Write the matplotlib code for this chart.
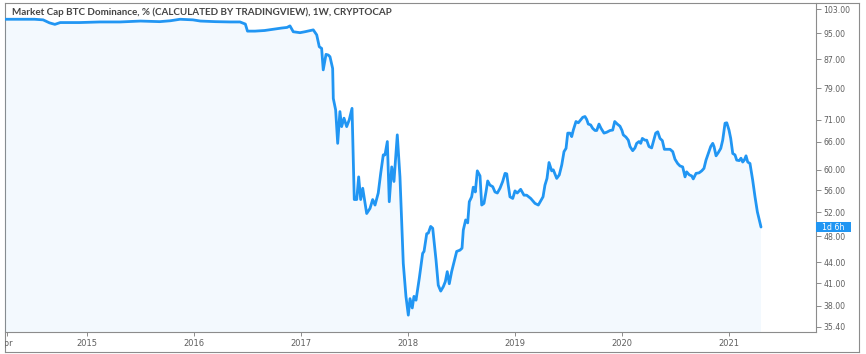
import matplotlib
matplotlib.use("Agg")
import numpy as np
import matplotlib.pyplot as plt
from matplotlib.ticker import FixedLocator, FixedFormatter, NullLocator
from matplotlib.patches import Rectangle
from matplotlib.transforms import blended_transform_factory

# ---------------- data ----------------
years = [
    2014.23, 2014.37, 2014.51, 2014.59, 2014.65, 2014.70, 2014.75, 2014.93,
    2015.12, 2015.31, 2015.50, 2015.68, 2015.78, 2015.87, 2015.99, 2016.06,
    2016.20, 2016.34, 2016.43, 2016.48, 2016.50, 2016.57, 2016.66, 2016.76,
    2016.82, 2016.87,
    2016.897, 2016.928, 2016.991, 2017.037, 2017.115, 2017.147, 2017.171, 2017.193,
    2017.208, 2017.234, 2017.255, 2017.271, 2017.296, 2017.302, 2017.324, 2017.343,
    2017.364, 2017.380, 2017.402, 2017.427, 2017.451, 2017.477, 2017.498, 2017.521,
    2017.539, 2017.558, 2017.577, 2017.614, 2017.645, 2017.670, 2017.692, 2017.722,
    2017.745, 2017.769, 2017.785, 2017.807, 2017.825, 2017.848, 2017.869, 2017.900,
    2017.925, 2017.956, 2017.981, 2018.003, 2018.019, 2018.040, 2018.056, 2018.075,
    2018.106, 2018.137, 2018.150, 2018.175, 2018.190, 2018.212, 2018.231, 2018.262,
    2018.283, 2018.306, 2018.330, 2018.349, 2018.367, 2018.386, 2018.408, 2018.430,
    2018.455, 2018.486, 2018.505, 2018.517, 2018.539, 2018.558, 2018.573, 2018.595,
    2018.610, 2018.629, 2018.648, 2018.673, 2018.689, 2018.710, 2018.729, 2018.745,
    2018.766, 2018.792, 2018.813, 2018.835, 2018.860, 2018.885, 2018.907, 2018.923,
    2018.937, 2018.953, 2018.979, 2019.000, 2019.021, 2019.053, 2019.084, 2019.109,
    2019.147, 2019.187, 2019.218, 2019.262, 2019.280, 2019.299, 2019.318, 2019.343,
    2019.358, 2019.390, 2019.414, 2019.437, 2019.458, 2019.477, 2019.493, 2019.514,
    2019.530, 2019.545, 2019.570, 2019.592, 2019.614, 2019.633, 2019.654, 2019.670,
    2019.685, 2019.707, 2019.726, 2019.748, 2019.764, 2019.785, 2019.804, 2019.832,
    2019.857, 2019.888, 2019.913, 2019.932, 2019.956, 2019.981, 2020.000, 2020.012,
    2020.037, 2020.059, 2020.075, 2020.100, 2020.121, 2020.137, 2020.159, 2020.175,
    2020.190, 2020.215, 2020.231, 2020.252, 2020.277, 2020.293, 2020.315, 2020.334,
    2020.355, 2020.377, 2020.396, 2020.418, 2020.449, 2020.474, 2020.495, 2020.520,
    2020.542, 2020.567, 2020.589, 2020.604, 2020.629, 2020.651, 2020.666, 2020.692,
    2020.720, 2020.745, 2020.766, 2020.785, 2020.807, 2020.829, 2020.848, 2020.860,
    2020.879, 2020.900, 2020.923, 2020.941, 2020.963, 2020.979, 2021.000, 2021.016,
    2021.035, 2021.056, 2021.072, 2021.096, 2021.112, 2021.128, 2021.143, 2021.159,
    2021.175, 2021.196, 2021.221, 2021.243, 2021.265, 2021.299,
]
dominance = [
    99.6, 99.6, 99.6, 99.4, 98.4, 97.9, 98.5, 98.5,
    98.7, 98.7, 99.0, 98.8, 99.1, 99.6, 99.4, 99.0,
    98.8, 98.7, 98.7, 98.0, 95.7, 95.7, 95.9, 96.4,
    96.7, 96.9,
    97.4, 95.5, 95.2, 95.5, 96.1, 94.5, 90.8, 90.3,
    84.0, 88.5, 88.3, 87.8, 84.4, 76.3, 73.4, 65.6,
    73.0, 69.4, 71.4, 69.4, 71.0, 73.8, 54.3, 54.3,
    58.6, 54.3, 56.4, 51.8, 52.7, 54.3, 53.3, 55.5,
    59.3, 63.1, 63.1, 66.0, 53.9, 60.6, 57.7, 67.5,
    58.6, 43.8, 39.2, 36.8, 38.9, 37.7, 39.2, 38.7,
    41.7, 45.3, 45.6, 48.4, 48.5, 49.6, 49.3, 44.3,
    40.7, 39.9, 40.5, 41.2, 42.6, 40.9, 42.6, 44.0,
    45.6, 45.8, 46.1, 49.0, 50.7, 50.2, 53.9, 54.8,
    56.6, 55.7, 59.8, 58.8, 53.3, 53.6, 55.7, 57.8,
    57.0, 56.7, 55.7, 55.5, 56.4, 57.7, 59.3, 59.2,
    57.0, 54.8, 54.5, 55.9, 55.5, 56.2, 55.1, 55.1,
    54.5, 53.6, 53.3, 54.8, 57.0, 58.3, 61.5, 59.8,
    60.0, 58.3, 59.0, 61.0, 63.8, 64.5, 67.9, 67.9,
    67.1, 68.6, 70.6, 70.3, 71.0, 71.6, 71.8, 71.1,
    70.0, 69.8, 69.0, 68.5, 68.5, 70.0, 69.0, 67.9,
    68.1, 68.5, 68.6, 70.6, 70.0, 69.5, 68.5, 67.5,
    67.0, 66.3, 64.9, 64.0, 64.6, 65.6, 66.0, 65.6,
    66.7, 66.3, 66.3, 64.9, 64.6, 66.0, 67.9, 68.2,
    66.7, 66.2, 64.3, 64.3, 64.3, 63.8, 62.2, 61.3,
    60.8, 60.6, 58.6, 59.6, 59.0, 58.8, 58.2, 59.3,
    59.4, 59.8, 60.3, 62.0, 63.4, 64.9, 65.6, 64.9,
    62.9, 63.6, 64.5, 66.3, 70.2, 70.3, 68.6, 66.7,
    63.4, 63.1, 62.0, 61.9, 62.4, 61.6, 62.0, 62.9,
    61.6, 61.3, 58.0, 54.8, 52.1, 49.5,
]

y_ticks = [35.4, 38, 41, 44, 48, 52, 56, 60, 66, 71, 79, 87, 95, 103]
y_tick_labels = ["35.40", "38.00", "41.00", "44.00", "48.00", "52.00", "56.00",
                 "60.00", "66.00", "71.00", "79.00", "87.00", "95.00", "103.00"]
x_ticks = [2014.25, 2015, 2016, 2017, 2018, 2019, 2020, 2021]
x_tick_labels = ["Apr", "2015", "2016", "2017", "2018", "2019", "2020", "2021"]
title = "Market Cap BTC Dominance, % (CALCULATED BY TRADINGVIEW), 1W, CRYPTOCAP"
countdown = "1d 6h"

# ---------------- styling ----------------
LINE = "#2196F3"
FRAME = "#8c8c8c"
TXT = "#5f5f5f"

W, H = 866, 354
fig = plt.figure(figsize=(W / 100, H / 100), dpi=100)
fig.patch.set_facecolor("white")


def rect(l, t, r, b):
    return [l / W, 1 - b / H, (r - l) / W, (b - t) / H]


# outer frame
bg = fig.add_axes(rect(5, 3, 859, 352))
bg.set_xticks([])
bg.set_yticks([])
for s in bg.spines.values():
    s.set_color(FRAME)
    s.set_linewidth(0.8)
bg.patch.set_facecolor("white")

ax = fig.add_axes(rect(5, 3, 816, 332))
ax.patch.set_alpha(0)
ax.set_yscale("log")
ax.fill_between(years, dominance, 1, color=LINE, alpha=0.05, lw=0)
ax.plot(years, dominance, color=LINE, lw=2.0, solid_joinstyle="round",
        solid_capstyle="round")
ax.set_xlim(2014.234, 2021.813)
ax.set_ylim(34.77, 105.2)

ax.yaxis.set_major_locator(FixedLocator(y_ticks))
ax.yaxis.set_major_formatter(FixedFormatter(y_tick_labels))
ax.yaxis.set_minor_locator(NullLocator())
ax.yaxis.tick_right()
ax.tick_params(axis="y", direction="out", length=3.5, width=0.7, color=FRAME,
               labelsize=5.6, labelcolor=TXT, pad=1.8)

ax.xaxis.set_major_locator(FixedLocator(x_ticks))
ax.xaxis.set_major_formatter(FixedFormatter(x_tick_labels))
ax.xaxis.set_minor_locator(NullLocator())
ax.tick_params(axis="x", direction="out", length=3, width=0.7, color=FRAME,
               labelsize=6.0, labelcolor=TXT, pad=2.2)

for name, s in ax.spines.items():
    s.set_color(FRAME)
    s.set_linewidth(0.8)
ax.spines["left"].set_visible(False)
ax.spines["top"].set_visible(False)

# clip the partial "Apr" label at the left frame
fig.canvas.draw()
for lab in ax.get_xticklabels():
    if lab.get_text() == "Apr":
        lab.set_clip_box(bg.bbox)
        lab.set_clip_on(True)

# countdown badge on the price scale at the last value
last = dominance[-1]
half = np.exp(4.6 / 297.2)
trans = blended_transform_factory(ax.transAxes, ax.transData)
ax.add_patch(Rectangle((1.0, last / half), 35 / 811, last * half - last / half,
                       transform=trans, facecolor=LINE, edgecolor="none",
                       clip_on=False, zorder=5))
ax.annotate(countdown, xy=(1, last), xycoords=("axes fraction", "data"),
            xytext=(12.6, 0), textcoords="offset points",
            ha="center", va="center", color="white", fontsize=5.6,
            annotation_clip=False, zorder=6)

fig.text(12 / W, 1 - 12.5 / H, title, ha="left", va="center", fontsize=7.1,
         color="#454545", family="Lato", fontweight="bold")

fig.savefig("out.png", dpi=100, facecolor="white")
